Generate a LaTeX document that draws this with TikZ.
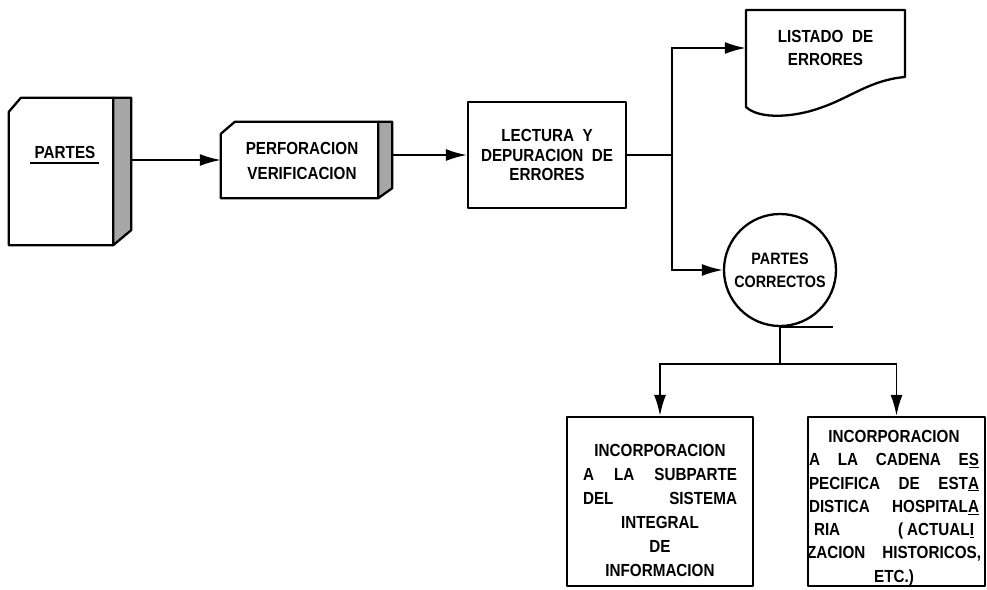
\documentclass[tikz,border=0pt]{standalone}
\usepackage{fontspec}
\setmainfont{Liberation Sans}[WordSpace=2, FakeStretch=0.87]
\usetikzlibrary{arrows.meta,positioning}

\tikzset{
  lbl/.style={font=\fontsize{17.5}{#1}\selectfont\bfseries, align=center, inner sep=0pt},
  lbl/.default=23,
  body/.style={inner sep=0pt},
  outline/.style={line width=2.3pt, line join=round},
  procbox/.style={draw, outline},
  sideshade/.style={outline, fill=black!35},
  link/.style={line width=1.9pt},
  arr/.style={link, -{Latex[length=21pt,width=12pt]}},
}

\begin{document}
\begin{tikzpicture}[x=1pt, y=-1pt]
  \useasboundingbox (0,0) rectangle (987,589);

  \node[body, minimum width=104pt, minimum height=147pt] (card) at (61,171.5) {};
  \node[lbl] (cardlbl) at (65,152) {PARTES};
  \draw[outline] ([yshift=-14pt]card.north west) -- ([xshift=12pt]card.north west)
    -- (card.north east) -- (card.south east) -- (card.south west) -- cycle;
  \draw[sideshade] (card.north east) -- ++(18,0) -- ([xshift=18pt,yshift=15pt]card.south east)
    -- (card.south east) -- cycle;
  \draw[link] ([xshift=-4pt,yshift=-5pt]cardlbl.south west) -- ([xshift=3pt,yshift=-5pt]cardlbl.south east);
  \coordinate (cardside) at ([xshift=18pt]card.east);

  \node[body, minimum width=157pt, minimum height=76pt] (perf) at (299.5,160) {};
  \node[lbl=25] (perflbl) at (302,160.5) {PERFORACION\\VERIFICACION};
  \draw[outline] ([yshift=-12pt]perf.north west) -- ([xshift=14pt]perf.north west)
    -- (perf.north east) -- (perf.south east) -- (perf.south west) -- cycle;
  \draw[sideshade] (perf.north east) -- ++(14,0) -- ([xshift=14pt,yshift=10pt]perf.south east)
    -- (perf.south east) -- cycle;
  \coordinate (perfside) at ([xshift=14pt]perf.east);

  \node[procbox, lbl=19.5, minimum width=158pt, minimum height=106pt] (lect) at (547,155)
    {LECTURA Y\\DEPURACION DE\\ERRORES};

  \node[lbl, minimum width=159pt, minimum height=76pt] (list) at (825.5,48) {LISTADO DE\\ERRORES};
  \draw[outline] (746,107) -- (746,10) -- (905,10) -- (905,77)
    .. controls (870,80) and (850,98) .. (820,108)
    .. controls (795,117) and (760,120) .. cycle;

  \node[circle, draw, outline, font=\fontsize{16.5}{23}\selectfont\bfseries, align=center,
    inner sep=0pt, minimum size=112pt] (circ) at (780,270) {PARTES\\CORRECTOS};
  \draw[outline] (circ.south) -- ++(53,0);

  \node[procbox, minimum width=186pt, minimum height=169pt] (inc1) at (660,501.5) {};
  \node[lbl=24] (inc1lbl) at (660,510) {INCORPORACION\\
    \makebox[154pt][s]{A LA SUBPARTE}\\
    \makebox[154pt][s]{DEL SISTEMA}\\
    INTEGRAL\\DE\\INFORMACION};

  \node[procbox, minimum width=177pt, minimum height=169pt] (inc2) at (896.5,501.5) {};
  \node[lbl=23.3] (inc2lbl) at (894,508) {INCORPORACION\\
    \makebox[170pt][s]{A LA CADENA E\underline{S}}\\
    \makebox[170pt][s]{PECIFICA DE EST\underline{A}}\\
    \makebox[170pt][s]{DISTICA HOSPITAL\underline{A}}\\
    \makebox[160pt][s]{RIA (\hspace{4pt}ACTUAL\underline{I}}\\
    \makebox[174pt][s]{ZACION HISTORICOS,}\\
    ETC.)};

  \coordinate[right=45pt of lect.east] (split);
  \coordinate[below=37pt of circ.south] (branch);

  \draw[arr] (cardside |- perf.west) -- (perf.west);
  \draw[arr] (perfside |- lect.west) -- (lect.west);
  \draw[link] (lect.east) -- (split);
  \draw[arr] (split) |- (list.west);
  \draw[arr] (split) |- (circ.west);
  \draw[link] (circ.south) -- (branch);
  \draw[arr] (branch) -| (inc1.north);
  \draw[arr] (branch) -| (inc2.north);
\end{tikzpicture}
\end{document}
